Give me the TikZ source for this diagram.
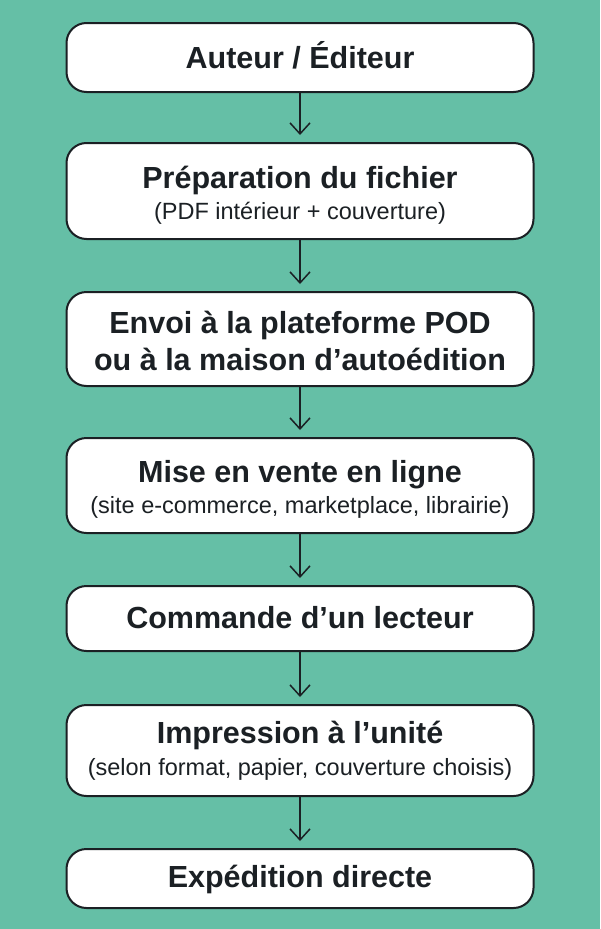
\documentclass[tikz,border=0pt]{standalone}
\usepackage{fontspec}
\setmainfont{Liberation Sans}
\usetikzlibrary{arrows.meta}
\definecolor{bgc}{HTML}{65BFA6}
\definecolor{ink}{HTML}{1B2024}
\tikzset{
  box/.style={draw=ink, line width=2pt, fill=white, rounded corners=20pt, minimum width=467pt, inner sep=0pt},
  ttl/.style={anchor=base, text=ink, font=\fontsize{30.5}{35}\selectfont\bfseries, inner sep=0pt},
  sub/.style={anchor=base, text=ink, font=\fontsize{23.5}{27}\selectfont, inner sep=0pt},
  arr/.style={draw=ink, line width=1.5pt, -{Straight Barb[length=11pt,width=20pt,line width=1.5pt]}}
}
\begin{document}
\begin{tikzpicture}[x=1pt,y=-1pt]
\fill[bgc] (0,0) rectangle (600,929);
\useasboundingbox (0,0) rectangle (600,929);
% boxes
\node[box, minimum height=69pt] (b1) at (300,57.5) {};
\node[box, minimum height=96pt] (b2) at (300,191) {};
\node[box, minimum height=94pt] (b3) at (300,339) {};
\node[box, minimum height=95pt] (b4) at (300,485.5) {};
\node[box, minimum height=65pt] (b5) at (300,618.5) {};
\node[box, minimum height=91pt] (b6) at (300,750.5) {};
\node[box, minimum height=59pt] (b7) at (300,878.5) {};
% texts
\node[ttl] (t1) at (300,68) {Auteur / Éditeur};
\node[ttl] (t2) at (300,188) {Préparation du fichier};
\node[sub] (s2) at (300,219) {(PDF intérieur + couverture)};
\node[ttl] (t3a) at (300,333) {Envoi à la plateforme POD};
\node[ttl] (t3b) at (300,370) {ou à la maison d’autoédition};
\node[ttl] (t4) at (300,482) {Mise en vente en ligne};
\node[sub] (s4) at (300,513) {(site e-commerce, marketplace, librairie)};
\node[ttl] (t5) at (300,628) {Commande d’un lecteur};
\node[ttl] (t6) at (300,743) {Impression à l’unité};
\node[sub] (s6) at (300,775) {(selon format, papier, couverture choisis)};
\node[ttl] (t7) at (300,887) {Expédition directe};
% arrows
\draw[arr] (b1.south) -- ([yshift=7pt]b2.north);
\draw[arr] (b2.south) -- ([yshift=7pt]b3.north);
\draw[arr] (b3.south) -- ([yshift=7pt]b4.north);
\draw[arr] (b4.south) -- ([yshift=7pt]b5.north);
\draw[arr] (b5.south) -- ([yshift=7pt]b6.north);
\draw[arr] (b6.south) -- ([yshift=7pt]b7.north);
\end{tikzpicture}
\end{document}
